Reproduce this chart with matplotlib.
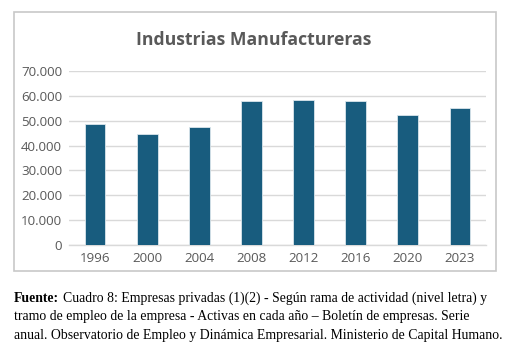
import matplotlib
matplotlib.use("Agg")
import matplotlib.pyplot as plt
from matplotlib.patches import Rectangle

years = ["1996", "2000", "2004", "2008", "2012", "2016", "2020", "2023"]
empresas = [48600, 44500, 47300, 57900, 58500, 57900, 52400, 55000]
yticks = [0, 10000, 20000, 30000, 40000, 50000, 60000, 70000]
ytick_labels = ["0", "10.000", "20.000", "30.000", "40.000", "50.000", "60.000", "70.000"]
title = "Industrias Manufactureras"
source_bold = "Fuente:"
source_lines = [
    "Cuadro 8: Empresas privadas (1)(2) - Según rama de actividad (nivel letra) y",
    "tramo de empleo de la empresa - Activas en cada año – Boletín de empresas. Serie",
    "anual. Observatorio de Empleo y Dinámica Empresarial. Ministerio de Capital Humano.",
]

W, H = 512, 350
fig = plt.figure(figsize=(W / 100, H / 100), dpi=100)
fig.patch.set_facecolor("white")

def fx(px):
    return px / W

def fy(py):
    return 1 - py / H

# chart border
fig.patches.append(Rectangle((fx(14), fy(271)), fx(496) - fx(14), fy(12) - fy(271),
                             transform=fig.transFigure, fill=False,
                             edgecolor="#c8c8c8", linewidth=1.2))

ax = fig.add_axes([fx(69), fy(245), fx(486) - fx(69), fy(71) - fy(245)])
x = list(range(len(years)))
ax.bar(x, empresas, width=0.4, color="#185c7e", edgecolor="#dbe6ec", linewidth=0.6, zorder=3)
ax.set_xlim(-0.5, len(years) - 0.5)
ax.set_ylim(0, 70000)
ax.set_yticks(yticks)
ax.set_yticklabels(ytick_labels)
ax.set_xticks(x)
ax.set_xticklabels(years)
ax.grid(axis="y", color="#d9d9d9", linewidth=1.0, zorder=0)
for s in ["top", "right", "left"]:
    ax.spines[s].set_visible(False)
ax.spines["bottom"].set_color("#d9d9d9")
ax.spines["bottom"].set_linewidth(1.0)
ax.tick_params(length=0, labelsize=9.6, labelcolor="#595959", pad=5)
for lab in ax.get_xticklabels() + ax.get_yticklabels():
    lab.set_fontfamily("Open Sans")

fig.text(fx(254), fy(40), title, ha="center", va="center", fontsize=12.7,
         fontweight="bold", color="#595959", family="Open Sans")

serif = "Liberation Serif"
fs = 9.9
tb = fig.text(fx(14), fy(298), source_bold, ha="left", va="center", fontsize=fs,
              fontweight="bold", family=serif, color="black")
fig.canvas.draw()
bb = tb.get_window_extent(renderer=fig.canvas.get_renderer())
x_after = bb.x1 / W + 3.5 / W
fig.text(x_after, fy(298), source_lines[0], ha="left", va="center", fontsize=fs,
         family=serif, color="black")
fig.text(fx(14), fy(316.5), source_lines[1], ha="left", va="center", fontsize=fs,
         family=serif, color="black")
fig.text(fx(14), fy(335), source_lines[2], ha="left", va="center", fontsize=fs,
         family=serif, color="black")

fig.savefig("out.png", dpi=100, facecolor="white")
